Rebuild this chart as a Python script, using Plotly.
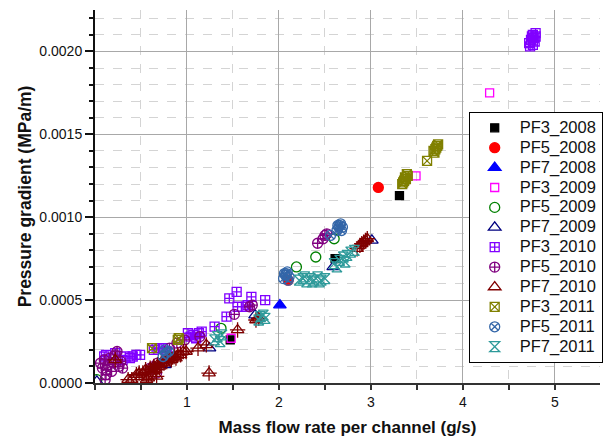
import plotly.graph_objects as go

# ---------------- data ----------------
pf3_2008_x = [1.47, 2.61, 3.31]
pf3_2008_y = [0.00026, 0.00075, 0.00113]

pf5_2008_x = [2.10, 3.08]
pf5_2008_y = [0.00062, 0.00118]

pf7_2008_x = [2.01]
pf7_2008_y = [0.00047]

pf3_2009_x = [1.48, 3.49, 4.29]
pf3_2009_y = [0.00027, 0.00125, 0.00175]

pf5_2009_x = [0.02, 1.37, 2.19, 2.40, 2.60]
pf5_2009_y = [0.00002, 0.00033, 0.00070, 0.00076, 0.00087]

pf7_2009_x = [0.02, 0.76, 1.245, 1.74, 2.59, 3.01]
pf7_2009_y = [0.00001, 0.00011, 0.00021, 0.00041, 0.00070, 0.00086]

pf3_2010_x = [0.10, 0.12, 0.22, 0.30, 0.33, 0.38, 0.41, 0.45, 0.49, 0.64, 0.67,
              0.70, 0.74, 0.78, 1.01, 1.04, 1.07, 1.10, 1.13, 1.16, 1.30, 1.43,
              1.46, 1.54, 1.55, 1.64, 1.66, 1.70, 1.85,
              4.72, 4.74, 4.75, 4.76, 4.77, 4.78, 4.79, 4.73, 4.76, 4.79]
pf3_2010_y = [0.00016, 0.00017, 0.00018, 0.00014, 0.00016, 0.00015, 0.00016,
              0.00017, 0.00017, 0.00020, 0.00021, 0.00021, 0.00021, 0.00019,
              0.00030, 0.00028, 0.00029, 0.00027, 0.00030, 0.00031, 0.00034,
              0.00040, 0.00051, 0.00055, 0.00046, 0.00046, 0.00047, 0.00052,
              0.00050,
              0.00205, 0.00207, 0.00209, 0.00210, 0.00208, 0.00206, 0.00209,
              0.00203, 0.00204, 0.00211]

pf5_2010_x = [0.06, 0.08, 0.10, 0.11, 0.12, 0.14, 0.16, 0.18, 0.20, 0.22, 0.24,
              0.26, 0.28, 0.30, 0.12, 0.60, 0.64, 0.67, 0.68, 0.81, 0.89, 0.975,
              1.14, 1.515, 1.68, 1.71, 2.42, 2.48, 2.50, 2.52]
pf5_2010_y = [0.00012, 0.00009, 0.00014, 0.00002, 0.00008, 0.00011, 0.00015,
              0.00007, 0.00012, 0.00017, 0.00019, 0.00010, 0.00013, 0.00009,
              0.00005, 0.00009, 0.00010, 0.00006, 0.00012, 0.00021, 0.00024,
              0.00026, 0.00028, 0.000414, 0.00046, 0.00047, 0.000843, 0.00087,
              0.00089, 0.00090]

pf7_2010_x = [0.22, 0.36, 0.40, 0.45, 0.48, 0.52, 0.55, 0.56, 0.58, 0.60, 0.62,
              0.64, 0.66, 0.67, 0.68, 0.70, 0.72, 0.75, 0.78, 0.80, 0.83, 0.86,
              0.88, 0.90, 0.93, 0.96, 0.99, 1.12, 1.21, 1.24, 1.55, 1.75, 1.78,
              2.85, 2.88, 2.90, 2.92, 2.94, 2.96]
pf7_2010_y = [0.00014, 0.00002, 0.00002, 0.00005, 0.00006, 0.00006, 0.00008,
              0.00002, 0.00003, 0.00009, 0.00007, 0.00010, 0.00008, 0.00004,
              0.00011, 0.00010, 0.00012, 0.00012, 0.00013, 0.00015, 0.00014,
              0.00016, 0.00015, 0.00017, 0.00017, 0.00019, 0.00019, 0.00021,
              0.00023, 0.00006, 0.00032, 0.00038, 0.00039,
              0.00081, 0.00083, 0.00084, 0.00085, 0.00086, 0.00087]

pf3_2011_x = [0.62, 0.90, 0.91, 3.34, 3.36, 3.38, 3.40, 3.37, 3.35, 3.39, 3.61,
              3.68, 3.70, 3.72, 3.71, 3.69, 3.73]
pf3_2011_y = [0.00021, 0.00026, 0.00027, 0.00120, 0.00122, 0.00123, 0.00125,
              0.00124, 0.00121, 0.00126, 0.00134, 0.00140, 0.00141, 0.00143,
              0.00142, 0.00139, 0.00144]

pf5_2011_x = [0.74, 0.77, 0.80, 0.76, 2.05, 2.07, 2.09, 2.11, 2.08, 2.06, 2.10,
              2.56, 2.63, 2.65, 2.67, 2.69, 2.66, 2.64, 2.68]
pf5_2011_y = [0.00016, 0.00018, 0.00019, 0.00020, 0.00063, 0.00065, 0.00067,
              0.00064, 0.00066, 0.00066, 0.00062, 0.00089, 0.00092, 0.00094,
              0.00096, 0.00094, 0.00095, 0.00095, 0.00092]

pf7_2011_x = [1.30, 1.33, 1.36, 1.38, 1.78, 1.80, 1.83, 1.85,
              2.22, 2.26, 2.30, 2.34, 2.38, 2.42, 2.46, 2.50, 2.28, 2.36, 2.44,
              2.60, 2.63, 2.66, 2.70, 2.72, 2.74, 2.78, 2.82]
pf7_2011_y = [0.00026, 0.00028, 0.00025, 0.00029, 0.00038, 0.00040, 0.00041,
              0.00039,
              0.00062, 0.00063, 0.00061, 0.00063, 0.00062, 0.00064, 0.00062,
              0.00063, 0.00064, 0.00061, 0.00061,
              0.00072, 0.00070, 0.00074, 0.00076, 0.00073, 0.00077, 0.00079,
              0.00080]

x_ticks = [1, 2, 3, 4, 5]
y_ticks = [0.0, 0.0005, 0.0010, 0.0015, 0.0020]

series = [
    ("PF3_2008", pf3_2008_x, pf3_2008_y, "square", "#000000", 8),
    ("PF5_2008", pf5_2008_x, pf5_2008_y, "circle", "#FF0000", 10),
    ("PF7_2008", pf7_2008_x, pf7_2008_y, "triangle-up", "#0000FF", 11),
    ("PF3_2009", pf3_2009_x, pf3_2009_y, "square-open", "#FF00FF", 8),
    ("PF5_2009", pf5_2009_x, pf5_2009_y, "circle-open", "#008000", 10),
    ("PF7_2009", pf7_2009_x, pf7_2009_y, "triangle-up-open", "#000080", 11),
    ("PF3_2010", pf3_2010_x, pf3_2010_y, "square-cross-open", "#8000FF", 9),
    ("PF5_2010", pf5_2010_x, pf5_2010_y, "circle-cross-open", "#800080", 10),
    ("PF7_2010", pf7_2010_x, pf7_2010_y, "triangle-up-open", "#800000", 11),
    ("PF3_2011", pf3_2011_x, pf3_2011_y, "square-x-open", "#808000", 9),
    ("PF5_2011", pf5_2011_x, pf5_2011_y, "circle-x-open", "#3366A8", 10),
    ("PF7_2011", pf7_2011_x, pf7_2011_y, "hourglass-open", "#2E9A9A", 10),
]

FONT = "Arial, 'Liberation Sans', sans-serif"

fig = go.Figure()
for name, xs, ys, sym, col, sz in series:
    fig.add_trace(go.Scatter(
        x=xs, y=ys, mode="markers",
        name="<span style='font-size:16.5px'>" + name + "</span>",
        legendgroup=name, hoverinfo="x+y",
        marker=dict(symbol=sym, color=col, size=sz,
                    line=dict(color=col, width=1.3)),
    ))
    if name == "PF7_2010":
        fig.add_trace(go.Scatter(
            x=xs, y=ys, mode="markers", name=name, legendgroup=name,
            showlegend=False, hoverinfo="skip",
            marker=dict(symbol="cross-thin-open", color=col, size=sz,
                        line=dict(color=col, width=1.3)),
        ))

fig.update_layout(
    width=603, height=441,
    margin=dict(l=95, r=0, t=10, b=58),
    paper_bgcolor="white", plot_bgcolor="white",
    font=dict(family=FONT, size=14, color="#111111"),
    showlegend=True,
    legend=dict(
        x=0.74, y=0.727, xanchor="left", yanchor="top",
        bgcolor="white", bordercolor="#000000", borderwidth=1,
        font=dict(family=FONT, size=13, color="#111111"),
        tracegroupgap=0, itemsizing="trace", itemwidth=40,
    ),
)

fig.update_xaxes(
    range=[0, 5.49],
    tickvals=x_ticks, ticktext=[str(v) for v in x_ticks],
    showline=True, linecolor="#333333", linewidth=2,
    ticks="outside", ticklen=5, tickwidth=1.5, tickcolor="#333333",
    showgrid=True, gridcolor="#A8A8A8", gridwidth=1,
    zeroline=False, mirror=False,
    minor=dict(dtick=0.5, tick0=0, showgrid=True, gridcolor="#D4D4D4",
               griddash="dash", gridwidth=1, ticks="outside", ticklen=5,
               tickcolor="#333333"),
    title=dict(text="<b>Mass flow rate per channel (g/s)</b>",
               font=dict(family=FONT, size=17, color="#111111"), standoff=12),
    tickfont=dict(family=FONT, size=14, color="#111111"),
)

fig.update_yaxes(
    range=[0, 0.00225],
    tickvals=y_ticks, tickformat=".4f",
    showline=True, linecolor="#111111", linewidth=2,
    ticks="outside", ticklen=8, tickwidth=1.5, tickcolor="#111111",
    showgrid=True, gridcolor="#A8A8A8", gridwidth=1,
    zeroline=False,
    minor=dict(dtick=0.0001, tick0=0, showgrid=True, gridcolor="#D4D4D4",
               griddash="dash", gridwidth=1, ticks="outside", ticklen=4,
               tickcolor="#111111"),
    title=dict(text="<b>Pressure gradient (MPa/m)</b>",
               font=dict(family=FONT, size=17.5, color="#111111"), standoff=3),
    tickfont=dict(family=FONT, size=14, color="#111111"),
)

fig.write_html("out.html",
               config={"displayModeBar": False},
               post_script="document.body.style.margin='0px';document.body.style.overflow='hidden';")
